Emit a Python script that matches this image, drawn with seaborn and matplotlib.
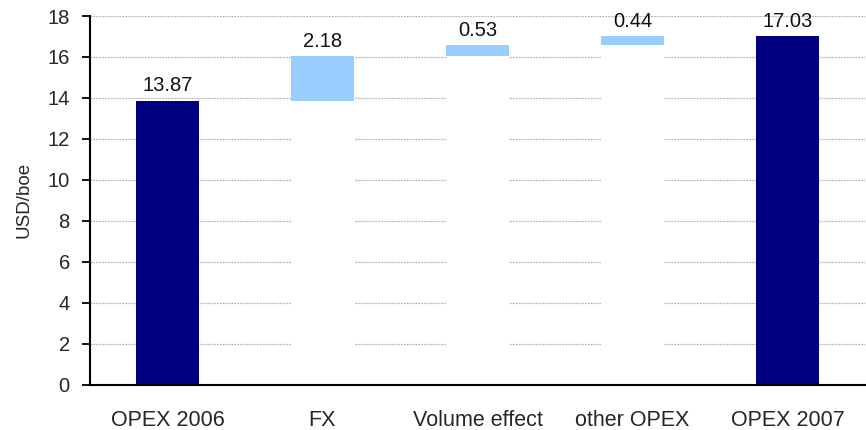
import matplotlib
matplotlib.use("Agg")
import matplotlib.pyplot as plt
import seaborn as sns
import pandas as pd

categories = ["OPEX 2006", "FX", "Volume effect", "other OPEX", "OPEX 2007"]
values = [13.87, 2.18, 0.53, 0.44, 17.03]
is_total = [True, False, False, False, True]
y_ticks = [0, 2, 4, 6, 8, 10, 12, 14, 16, 18]

TOTAL_COLOR = "#000080"
STEP_COLOR = "#99CCFF"

# running base/top for each waterfall step
bases, tops = [], []
running = 0.0
for v, tot in zip(values, is_total):
    if tot:
        bases.append(0.0)
        tops.append(v)
        running = v
    else:
        bases.append(running)
        tops.append(running + v)
        running += v

df = pd.DataFrame({"category": categories, "value": values,
                   "base": bases, "top": tops})

sns.set_style("white")
plt.rcParams["font.family"] = ["Liberation Sans", "DejaVu Sans"]

fig = plt.figure(figsize=(8.66, 4.30), dpi=100)
ax = fig.add_axes([90 / 866, (430 - 384.5) / 430, 775 / 866, 368.5 / 430])

colors = [TOTAL_COLOR if t else STEP_COLOR for t in is_total]
bar_w = 0.41

# full-height bars in colour, then white bars hiding the part below each step
sns.barplot(data=df, x="category", y="top", hue="category", palette=colors,
            order=categories, hue_order=categories, legend=False,
            width=bar_w, ax=ax, zorder=2, linewidth=0, saturation=1)
sns.barplot(data=df, x="category", y="base", color="white",
            order=categories, width=bar_w, ax=ax, zorder=2,
            linewidth=0, saturation=1)

# value labels above each bar
for i, (v, t) in enumerate(zip(values, tops)):
    ax.text(i, t + 0.25, f"{v:.2f}", ha="center", va="bottom",
            fontsize=14.5, color="#111111", zorder=5)

ax.set_xlim(-0.5, len(categories) - 0.5)
ax.set_ylim(0, 18)
ax.set_yticks(y_ticks)
ax.set_yticklabels([str(t) for t in y_ticks], fontsize=14.5)
ax.set_xticks(range(len(categories)))
ax.set_xticklabels(categories, fontsize=15.5)
ax.set_xticks([i + 0.5 for i in range(len(categories) - 1)], minor=True)
ax.tick_params(axis="x", which="major", length=0, pad=18)
ax.tick_params(axis="x", which="minor", length=6, width=1.3, color="black",
               direction="out")
ax.tick_params(axis="y", length=6, width=1.3, color="black", direction="out",
               left=True, pad=8.5)
ax.set_xlabel("")
ax.set_ylabel("USD/boe", fontsize=13.5, labelpad=11)

ax.yaxis.grid(True, color="#B8B8B8", linestyle=(0, (1.5, 0.8)), linewidth=0.9,
              zorder=0)
ax.set_axisbelow(True)

for side in ("top", "right"):
    ax.spines[side].set_visible(False)
for side in ("left", "bottom"):
    ax.spines[side].set_color("black")
    ax.spines[side].set_linewidth(1.5)
    ax.spines[side].set_zorder(4)

fig.savefig("out.png", dpi=100)
